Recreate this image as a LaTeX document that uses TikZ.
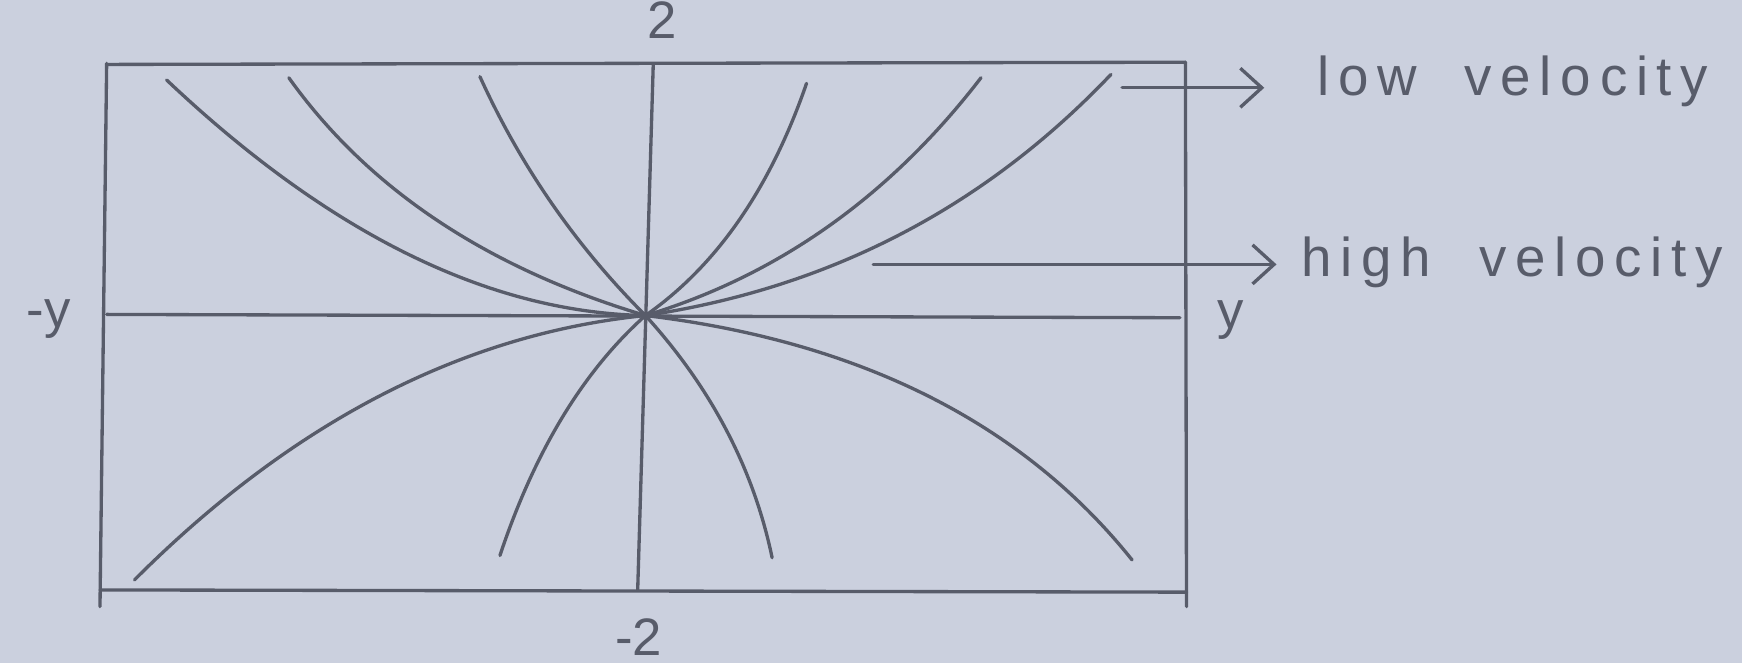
\documentclass[tikz,border=0pt]{standalone}
\usepackage{fontspec}
\setmainfont{Liberation Sans}
\newfontfamily\notefont[LetterSpace=16,WordSpace=2]{Liberation Sans}
\usetikzlibrary{arrows.meta,calc}
\definecolor{paper}{RGB}{203,208,222}
\definecolor{pencil}{RGB}{88,92,106}
\newcommand\myfieldline[2]{\draw[field] (O) .. controls ($(O)!2/3!(#1)$) and ($(#2)!2/3!(#1)$) .. (#2);}
\begin{document}
\begin{tikzpicture}[x=0.01cm,y=-0.01cm,
  stroke/.style={draw=pencil,line width=0.85pt,line cap=round,line join=round},
  field/.style={stroke},
  pointer/.style={stroke,-{Straight Barb[length=5.5pt,width=10pt]}},
  axislabel/.style={text=pencil,font=\fontsize{13.5}{13.5}\selectfont,inner sep=0pt,anchor=base},
  note/.style={text=pencil,font=\notefont\fontsize{14}{14}\selectfont,inner sep=0pt,anchor=base west}]
% paper
\fill[paper] (0,0) rectangle (1568,597);
\useasboundingbox (0,0) rectangle (1568,597);
% frame
\draw[stroke] (96,57) -- (90,546);
\draw[stroke] (96,58) -- (1067,56);
\draw[stroke] (1067,56) -- (1068,546);
\draw[stroke] (90,531) -- (1068,533);
% axes
\coordinate (O) at (581,284);
\draw[stroke] (588,58) -- (574,531);
\draw[stroke] (96,283) -- (1062,286);
% field lines, upper half
\myfieldline{370,280}{150,72}
\myfieldline{367,220}{260,70}
\myfieldline{487,190}{432,69}
\myfieldline{677,217}{726,75}
\myfieldline{760,230}{883,70}
\myfieldline{829,247}{1000,67}
% field lines, lower half
\myfieldline{334,309}{121,522}
\myfieldline{497,359}{450,500}
\myfieldline{670,382}{695,502}
\myfieldline{871,319}{1019,504}
% axis labels
\node[axislabel] (zp) at (596,35) {2};
\node[axislabel] (zm) at (575,590) {-2};
\node[axislabel] (ym) at (44,295) {-y};
\node[axislabel] (yp) at (1108,296) {y};
% notes
\node[note] (low) at (1185,86) {low velocity};
\node[note] (high) at (1171,249) {high velocity};
\coordinate (lowtail) at (1010,79);
\coordinate (lowtip) at (1138,79);
\coordinate (hightail) at (786,238);
\coordinate (hightip) at (1149,238);
\draw[pointer] (lowtail) -- (lowtip);
\draw[pointer] (hightail) -- (hightip);
\end{tikzpicture}
\end{document}
